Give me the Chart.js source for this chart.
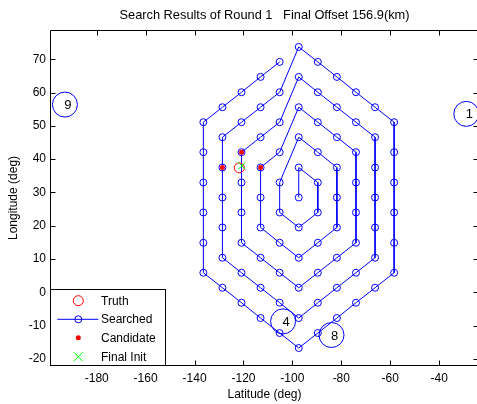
<!DOCTYPE html>
<html><head><meta charset="utf-8">
<script src="https://cdn.jsdelivr.net/npm/chart.js@4/dist/chart.umd.min.js"></script>
<style>
html,body{margin:0;padding:0;overflow:hidden;background:#fff;width:477px;height:404px}
#wrap{position:relative;width:481px;height:404px}
</style>
</head><body><div id="wrap"><canvas id="c" width="481" height="404"></canvas></div>
<script>
const titleText = 'Search Results of Round 1   Final Offset 156.9(km)';
const xAxisLabel = 'Latitude (deg)';
const yAxisLabel = 'Longitude (deg)';
const xTickValues = [-180, -160, -140, -120, -100, -80, -60, -40];
const yTickValues = [-20, -10, 0, 10, 20, 30, 40, 50, 60, 70];
const xRange = [-199.1, -23.7];
const yRange = [-22.1, 78.8];

// searched points, in visiting order (spiral)
const searchedX = [
  -97.4,
  -97.4, -89.6, -89.6, -97.4, -105.2, -105.2,
  -97.4, -89.6, -81.8, -81.8, -81.8, -89.6, -97.4, -105.2, -113.0, -113.0, -113.0, -105.2,
  -97.4, -89.6, -81.8, -74.0, -74.0, -74.0, -74.0, -81.8, -89.6, -97.4, -105.2, -113.0, -120.8, -120.8, -120.8, -120.8, -113.0, -105.2,
  -97.4, -89.6, -81.8, -74.0, -66.2, -66.2, -66.2, -66.2, -66.2, -74.0, -81.8, -89.6, -97.4, -105.2, -113.0, -120.8, -128.6, -128.6, -128.6, -128.6, -128.6, -120.8, -113.0, -105.2,
  -97.4, -89.6, -81.8, -74.0, -66.2, -58.4, -58.4, -58.4, -58.4, -58.4, -58.4, -66.2, -74.0, -81.8, -89.6, -97.4, -105.2, -113.0, -120.8, -128.6, -136.4, -136.4, -136.4, -136.4, -136.4, -136.4, -128.6, -120.8, -113.0, -105.2
];
const searchedY = [
  28.5,
  37.5, 33.0, 24.0, 19.5, 24.0, 33.0,
  46.6, 42.1, 37.5, 28.5, 19.5, 14.9, 10.4, 14.9, 19.5, 28.5, 37.5, 42.1,
  55.6, 51.1, 46.6, 42.1, 33.0, 24.0, 14.9, 10.4, 5.9, 1.4, 5.9, 10.4, 14.9, 24.0, 33.0, 42.1, 46.6, 51.1,
  64.7, 60.1, 55.6, 51.1, 46.6, 37.5, 28.5, 19.5, 10.4, 5.9, 1.4, -3.1, -7.7, -3.1, 1.4, 5.9, 10.4, 19.5, 28.5, 37.5, 46.6, 51.1, 55.6, 60.1,
  73.7, 69.2, 64.7, 60.1, 55.6, 51.1, 42.1, 33.0, 24.0, 14.9, 5.9, 1.4, -3.1, -7.7, -12.2, -16.7, -12.2, -7.7, -3.1, 1.4, 5.9, 14.9, 24.0, 33.0, 42.1, 51.1, 55.6, 60.1, 64.7, 69.2
];
const truthX = [-121.7];
const truthY = [37.4];
const candidateX = [-128.6, -120.8, -113.0];
const candidateY = [37.5, 42.1, 37.5];
const finalX = [-120.7];
const finalY = [38.0];
const stationLabels = ['4', '8', '9', '1'];
const stationX = [-103.8, -84.0, -193.0, -28.9];
const stationY = [-8.7, -12.8, 56.4, 53.6];

const FONT = '"Liberation Sans", Arial, Helvetica, sans-serif';
const pts = (xs, ys) => xs.map((x, i) => ({x: x, y: ys[i]}));

const matlabPlugin = {
  id: 'matlab',
  afterDraw(chart) {
    const ctx = chart.ctx, a = chart.chartArea;
    const xs = chart.scales.x, ys = chart.scales.y;
    ctx.save();
    ctx.strokeStyle = '#000';
    ctx.lineWidth = 1;
    const L = Math.round(a.left) + 0.5, R = Math.round(a.right) - 0.5;
    const T = Math.round(a.top) + 0.5, B = Math.round(a.bottom) - 0.5;
    ctx.beginPath();
    ctx.moveTo(L, T); ctx.lineTo(R, T); ctx.lineTo(R, B); ctx.lineTo(L, B); ctx.closePath();
    ctx.stroke();
    const tl = 5;
    ctx.beginPath();
    xTickValues.forEach(v => {
      const p = Math.round(xs.getPixelForValue(v)) + 0.5;
      ctx.moveTo(p, B); ctx.lineTo(p, B - tl);
      ctx.moveTo(p, T); ctx.lineTo(p, T + tl);
    });
    yTickValues.forEach(v => {
      const p = Math.round(ys.getPixelForValue(v)) + 0.5;
      ctx.moveTo(L, p); ctx.lineTo(L + tl, p);
      ctx.moveTo(R, p); ctx.lineTo(R - tl, p);
    });
    ctx.stroke();

    ctx.fillStyle = '#000';
    ctx.font = '13px ' + FONT;
    ctx.textAlign = 'center';
    ctx.textBaseline = 'middle';
    stationLabels.forEach((t, i) => {
      ctx.fillText(t, xs.getPixelForValue(stationX[i]) + 3, ys.getPixelForValue(stationY[i]) + 1);
    });

    const lx0 = L, lx1 = 165.5, ly0 = 289.5, ly1 = B;
    ctx.fillStyle = '#fff';
    ctx.fillRect(lx0, ly0, lx1 - lx0, ly1 - ly0);
    ctx.strokeStyle = '#000';
    ctx.strokeRect(lx0, ly0, lx1 - lx0, ly1 - ly0);
    const rows = [300.7, 319.3, 337.7, 356.7];
    const mx = 78.3;
    ctx.strokeStyle = '#ff0000';
    ctx.beginPath(); ctx.arc(mx, rows[0], 5, 0, Math.PI * 2); ctx.stroke();
    ctx.strokeStyle = '#0000ff';
    ctx.beginPath(); ctx.moveTo(57.3, rows[1]); ctx.lineTo(98.3, rows[1]); ctx.stroke();
    ctx.beginPath(); ctx.arc(mx, rows[1], 3.5, 0, Math.PI * 2); ctx.stroke();
    ctx.fillStyle = '#ff0000';
    ctx.beginPath(); ctx.arc(mx, rows[2], 2.5, 0, Math.PI * 2); ctx.fill();
    ctx.strokeStyle = '#00ff00';
    ctx.beginPath();
    ctx.moveTo(mx - 4.5, rows[3] - 4.5); ctx.lineTo(mx + 4.5, rows[3] + 4.5);
    ctx.moveTo(mx - 4.5, rows[3] + 4.5); ctx.lineTo(mx + 4.5, rows[3] - 4.5);
    ctx.stroke();
    ctx.fillStyle = '#000';
    ctx.font = '12px ' + FONT;
    ctx.textAlign = 'left';
    ctx.textBaseline = 'middle';
    ['Truth', 'Searched', 'Candidate', 'Final Init'].forEach((t, i) => ctx.fillText(t, 101, rows[i] + 0.5));
    ctx.restore();
  }
};

new Chart(document.getElementById('c'), {
  type: 'scatter',
  data: {
    datasets: [
      {label: 'Final Init', data: pts(finalX, finalY), showLine: false, pointStyle: 'crossRot', pointRadius: 5,
        borderColor: '#00ff00', backgroundColor: '#00ff00', borderWidth: 1, order: 0},
      {label: 'Candidate', data: pts(candidateX, candidateY), showLine: false, pointStyle: 'circle', pointRadius: 2.5,
        borderColor: '#ff0000', backgroundColor: '#ff0000', borderWidth: 0, order: 1},
      {label: 'Truth', data: pts(truthX, truthY), showLine: false, pointStyle: 'circle', pointRadius: 5,
        borderColor: '#ff0000', backgroundColor: 'rgba(0,0,0,0)', borderWidth: 1, order: 2},
      {label: 'Searched', data: pts(searchedX, searchedY), showLine: true, tension: 0, borderColor: '#0000ff', borderWidth: 1,
        pointRadius: 3.5, pointBorderColor: '#0000ff', pointBackgroundColor: 'rgba(0,0,0,0)', pointBorderWidth: 1, order: 3},
      {label: 'Stations', data: pts(stationX, stationY), showLine: false, pointRadius: 12.5,
        borderColor: '#0000ff', backgroundColor: 'rgba(0,0,0,0)', borderWidth: 1, order: 4}
    ]
  },
  options: {
    responsive: false,
    animation: false,
    devicePixelRatio: 1,
    events: [],
    layout: {autoPadding: false, padding: {left: 0, right: 2, top: 0, bottom: 0}},
    plugins: {
      legend: {display: false},
      tooltip: {enabled: false},
      title: {display: true, text: titleText, color: '#000', fullSize: false,
        font: {family: FONT, size: 12.8, weight: 'normal', lineHeight: 1.2}, padding: {top: 8, bottom: 6.6}}
    },
    scales: {
      x: {
        type: 'linear', min: xRange[0], max: xRange[1],
        afterBuildTicks: s => { s.ticks = xTickValues.map(v => ({value: v})); },
        afterFit: s => { s.height = 38; s.paddingLeft = 0; s.paddingRight = 0; },
        grid: {display: false, drawTicks: false}, border: {display: false},
        ticks: {color: '#000', font: {family: FONT, size: 12}, padding: 5, maxRotation: 0, autoSkip: false},
        title: {display: true, text: xAxisLabel, color: '#000', font: {family: FONT, size: 12, lineHeight: 1.2}, padding: {top: 0, bottom: 2}}
      },
      y: {
        type: 'linear', min: yRange[0], max: yRange[1],
        afterBuildTicks: s => { s.ticks = yTickValues.map(v => ({value: v})); },
        afterFit: s => { s.width = 50; s.paddingTop = 0; s.paddingBottom = 0; },
        grid: {display: false, drawTicks: false}, border: {display: false},
        ticks: {color: '#000', font: {family: FONT, size: 12}, padding: 4, autoSkip: false},
        title: {display: true, text: yAxisLabel, color: '#000', font: {family: FONT, size: 12, lineHeight: 1.2}, padding: {top: 6, bottom: 0}}
      }
    }
  },
  plugins: [matlabPlugin]
});
</script>
</body></html>
